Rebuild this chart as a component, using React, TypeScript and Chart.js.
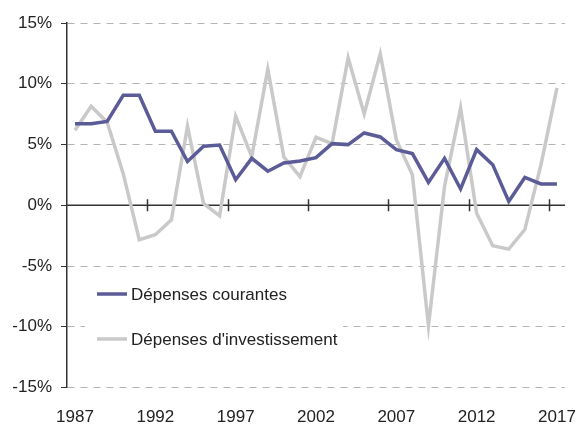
import React, { useEffect, useRef } from "react";
import { Chart, registerables } from "chart.js";

Chart.register(...registerables);

const years: string[] = [];
for (let y = 1987; y <= 2017; y++) years.push(String(y));

const courantes = [
  6.7, 6.7, 6.9, 9.05, 9.05, 6.1, 6.1, 3.6, 4.85, 4.95,
  2.1, 3.86, 2.8, 3.48, 3.64, 3.92, 5.07, 4.99, 5.95, 5.62,
  4.58, 4.25, 1.88, 3.86, 1.34, 4.58, 3.34, 0.31, 2.29, 1.75, 1.75,
];

const investissement = [
  6.17, 8.15, 6.83, 2.6, -2.84, -2.43, -1.2, 6.5, 0.15, -0.87,
  7.32, 4.0, 11.2, 3.97, 2.35, 5.59, 5.07, 12.13, 7.52, 12.46,
  5.4, 2.51, -9.93, 1.55, 8.0, -0.65, -3.34, -3.61, -2.0, 3.3, 9.66,
];

const seriesNames = ["Dépenses courantes", "Dépenses d'investissement"];
const seriesColors = ["#5b5b97", "#c9c9c9"];
const yTicks = [-15, -10, -5, 0, 5, 10, 15];
const FONT = '"Liberation Sans", Arial, sans-serif';

const axisPlugin = {
  id: "zeroAxis",
  beforeDatasetsDraw(chart: any) {
    const { ctx, chartArea, scales } = chart;
    const x = scales.x;
    const y = scales.y;
    const y0 = y.getPixelForValue(0);
    ctx.save();
    ctx.strokeStyle = "#333333";
    ctx.lineWidth = 1.5;
    ctx.beginPath();
    ctx.moveTo(chartArea.left, y0);
    ctx.lineTo(chartArea.right, y0);
    ctx.stroke();
    const half = (x.getPixelForValue(1) - x.getPixelForValue(0)) / 2;
    for (let i = 5; i < years.length; i += 5) {
      const px = Math.round(x.getPixelForValue(i) - half) + 0.5;
      ctx.beginPath();
      ctx.moveTo(px, y0 - 6);
      ctx.lineTo(px, y0 + 6);
      ctx.stroke();
    }
    ctx.restore();
  },
};

const legendPlugin = {
  id: "innerLegend",
  afterDatasetsDraw(chart: any) {
    const { ctx, chartArea } = chart;
    const left = chartArea.left + 18;
    const top = chartArea.top + 255;
    ctx.save();
    ctx.fillStyle = "#ffffff";
    ctx.fillRect(left, top, 258, 78);
    ctx.font = `17px ${FONT}`;
    ctx.textBaseline = "middle";
    ctx.textAlign = "left";
    seriesNames.forEach((name, i) => {
      const cy = top + 16 + i * 45;
      ctx.strokeStyle = seriesColors[i];
      ctx.lineWidth = 3.5;
      ctx.beginPath();
      ctx.moveTo(left + 12, cy);
      ctx.lineTo(left + 42, cy);
      ctx.stroke();
      ctx.fillStyle = "#222222";
      ctx.fillText(name, left + 46, cy + 1);
    });
    ctx.restore();
  },
};

export default function App() {
  const ref = useRef<HTMLCanvasElement | null>(null);
  useEffect(() => {
    if (!ref.current) return;
    const chart = new Chart(ref.current, {
      type: "line",
      data: {
        labels: years,
        datasets: [
          {
            label: seriesNames[1],
            data: investissement,
            borderColor: seriesColors[1],
            backgroundColor: seriesColors[1],
            borderWidth: 3.5,
            pointRadius: 0,
            tension: 0,
            order: 2,
          },
          {
            label: seriesNames[0],
            data: courantes,
            borderColor: seriesColors[0],
            backgroundColor: seriesColors[0],
            borderWidth: 3.5,
            pointRadius: 0,
            tension: 0,
            order: 1,
          },
        ],
      },
      options: {
        animation: false,
        responsive: true,
        maintainAspectRatio: false,
        layout: { padding: { top: 23, right: 14, left: 0, bottom: 0 } },
        plugins: {
          legend: { display: false },
          tooltip: { enabled: false },
        },
        scales: {
          x: {
            type: "category",
            offset: true,
            grid: { display: false, drawTicks: false },
            border: { display: false },
            ticks: {
              autoSkip: false,
              maxRotation: 0,
              padding: 20,
              color: "#222222",
              font: { family: FONT, size: 17 },
              callback: (_v: any, i: number) => (i % 5 === 0 ? years[i] : ""),
            },
            afterFit: (s: any) => {
              s.height = 37.5;
              s.paddingLeft = 0;
              s.paddingRight = 0;
            },
          },
          y: {
            min: -15,
            max: 15,
            afterBuildTicks: (s: any) => {
              s.ticks = yTicks.map((v) => ({ value: v }));
            },
            grid: {
              color: "#b4b4b4",
              lineWidth: 1,
              tickColor: "#333333",
              tickLength: 6,
              drawTicks: true,
            },
            border: { display: true, color: "#333333", width: 1.5, dash: [7, 6] },
            ticks: {
              padding: 9,
              color: "#222222",
              font: { family: FONT, size: 17 },
              callback: (v: any) => `${v}%`,
            },
            afterFit: (s: any) => {
              s.width = 67;
              s.paddingTop = 0;
              s.paddingBottom = 0;
            },
          },
        },
      },
      plugins: [axisPlugin, legendPlugin],
    });
    return () => chart.destroy();
  }, []);
  return (
    <div style={{ position: "fixed", left: 0, top: 0, width: 579, height: 425, background: "#fff" }}>
      <canvas ref={ref} />
    </div>
  );
}
